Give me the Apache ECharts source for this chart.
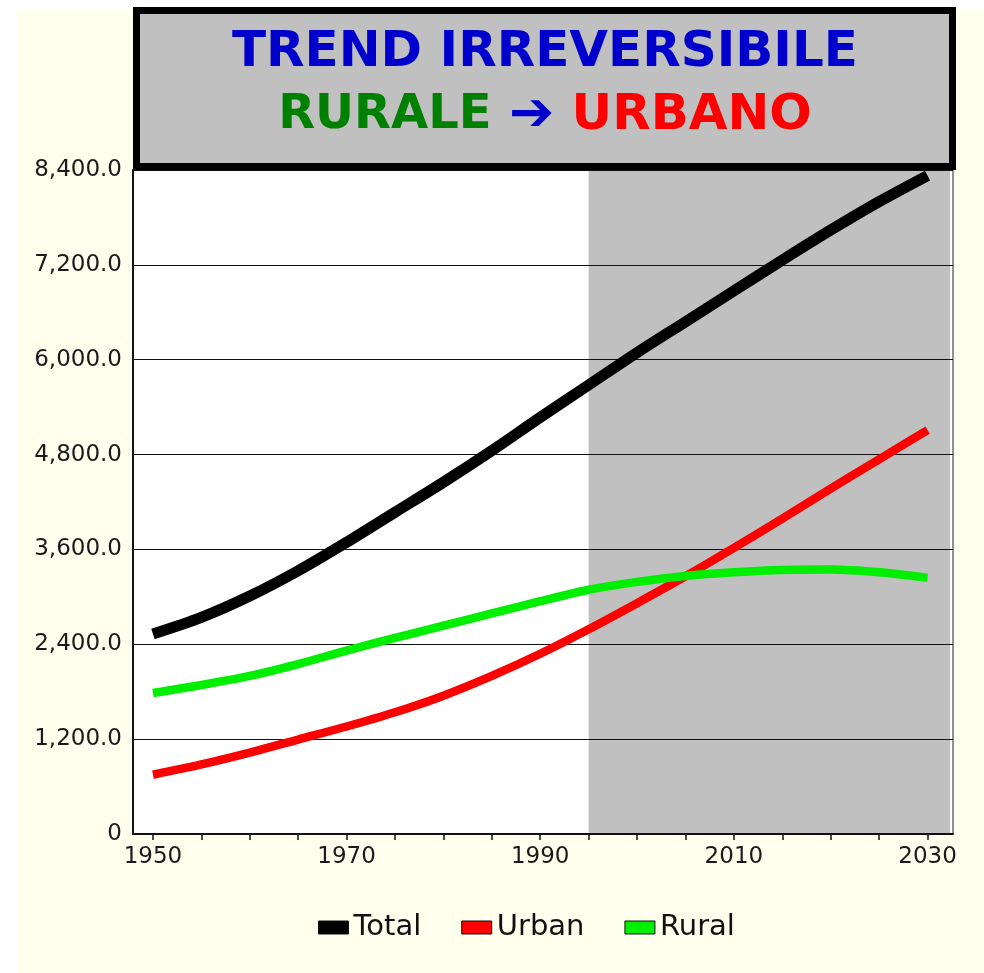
<!DOCTYPE html>
<html>
<head>
<meta charset="utf-8">
<title>Trend irreversibile: rurale → urbano</title>
<script src="https://cdn.jsdelivr.net/npm/echarts@6/dist/echarts.min.js"></script>
<style>
  html, body { margin: 0; padding: 0; background: #ffffff; }
  #paper { position: absolute; left: 18px; top: 10px; width: 966px; height: 963px; background: #ffffee; }
  #chart { position: absolute; left: 0; top: 0; width: 984px; height: 973px; }
</style>
</head>
<body>
<div id="paper"></div>
<div id="chart"></div>
<script>
// World population, millions (1950–2030, five-year steps)
const years = [1950, 1955, 1960, 1965, 1970, 1975, 1980, 1985, 1990, 1995, 2000, 2005, 2010, 2015, 2020, 2025, 2030];
const total = [2530, 2740, 3010, 3330, 3690, 4070, 4450, 4850, 5270, 5680, 6090, 6480, 6870, 7260, 7640, 8000, 8330];
const urban = [750, 880, 1030, 1195, 1360, 1540, 1750, 2000, 2280, 2590, 2920, 3260, 3620, 3990, 4370, 4740, 5110];
const rural = [1784, 1885, 2000, 2150, 2320, 2480, 2635, 2790, 2945, 3090, 3190, 3265, 3310, 3340, 3345, 3310, 3240];

const seriesNames = ['Total', 'Urban', 'Rural'];
const seriesColors = ['#000000', '#ff0000', '#00ee00'];
const seriesWidths = [11, 8.5, 8.5];

// projection period shaded from here to the end of the axis
const projectionStart = 1995;

const xTicks = [1950, 1955, 1960, 1965, 1970, 1975, 1980, 1985, 1990, 1995, 2000, 2005, 2010, 2015, 2020, 2025, 2030];
const xLabels = [1950, 1970, 1990, 2010, 2030];

const xMin = 1947.94, xMax = 2032.63;

const pairs = (vals) => years.map((y, i) => [y, vals[i]]);

const chart = echarts.init(document.getElementById('chart'), null, { renderer: 'canvas' });

const labelFont = 'DejaVu Sans';

const lineSeries = [total, urban, rural].map((vals, i) => ({
  name: seriesNames[i],
  type: 'line',
  data: pairs(vals),
  showSymbol: false,
  smooth: 0.3,
  z: 3,
  lineStyle: { color: seriesColors[i], width: seriesWidths[i], cap: 'butt', join: 'round' },
  itemStyle: { color: seriesColors[i] },
  emphasis: { disabled: true }
}));

// shaded projection band, kept under the grid lines
lineSeries.push({
  name: 'projection',
  type: 'line',
  data: [],
  z: 0,
  markArea: {
    silent: true,
    z: 0,
    itemStyle: { color: '#c0c0c0' },
    data: [[{ xAxis: projectionStart }, { xAxis: xMax - 0.3 }]]
  }
});

const option = {
  animation: false,
  grid: {
    left: 133, right: 31, top: 170, bottom: 139,
    show: true, backgroundColor: '#ffffff', borderColor: '#222222', borderWidth: 1
  },
  legend: {
    data: seriesNames,
    left: 313,
    top: 908,
    icon: 'rect',
    itemWidth: 30,
    itemHeight: 13,
    itemGap: 40,
    itemStyle: { borderColor: '#111111', borderWidth: 1 },
    textStyle: { fontFamily: labelFont, fontSize: 29, color: '#111111' }
  },
  xAxis: {
    type: 'value',
    min: xMin,
    max: xMax,
    z: 2,
    axisLine: { show: true, lineStyle: { color: '#111111', width: 2 } },
    axisTick: { show: true, customValues: xTicks, length: 6, lineStyle: { color: '#111111', width: 1.5 } },
    axisLabel: {
      customValues: xLabels,
      fontFamily: labelFont, fontSize: 23, color: '#1a1a1a', margin: 12,
      formatter: (v) => String(Math.round(v))
    },
    splitLine: { show: false }
  },
  yAxis: {
    type: 'value',
    min: 0,
    max: 8400,
    interval: 1200,
    z: 2,
    axisLine: { show: true, lineStyle: { color: '#111111', width: 2 } },
    axisTick: { show: false },
    axisLabel: {
      fontFamily: labelFont, fontSize: 23, color: '#1a1a1a', margin: 11,
      formatter: (v) => v === 0 ? '0' : v.toLocaleString('en-US', { minimumFractionDigits: 1, maximumFractionDigits: 1 })
    },
    splitLine: { show: true, lineStyle: { color: '#111111', width: 1.2 } }
  },
  series: lineSeries,
  graphic: [
    {
      type: 'rect',
      z: 100,
      shape: { x: 136.5, y: 10.5, width: 816, height: 156 },
      style: { fill: '#c0c0c0', stroke: '#000000', lineWidth: 7 }
    },
    {
      type: 'text',
      z: 101,
      x: 545, y: 53,
      style: {
        text: 'TREND IRREVERSIBILE',
        fill: '#0000cc',
        font: 'bold 50px "DejaVu Sans"',
        align: 'center',
        verticalAlign: 'middle'
      }
    },
    {
      type: 'text',
      z: 101,
      x: 545, y: 116,
      style: {
        text: '{g|RURALE} {b|➔} {r|URBANO}',
        font: 'bold 50px "DejaVu Sans"',
        align: 'center',
        verticalAlign: 'middle',
        rich: {
          g: { fill: '#008000', font: 'bold 48px "DejaVu Sans"' },
          b: { fill: '#0000cc', font: 'bold 54px "DejaVu Sans"' },
          r: { fill: '#ff0000', font: 'bold 50px "DejaVu Sans"' }
        }
      }
    }
  ]
};

chart.setOption(option);
</script>
</body>
</html>
